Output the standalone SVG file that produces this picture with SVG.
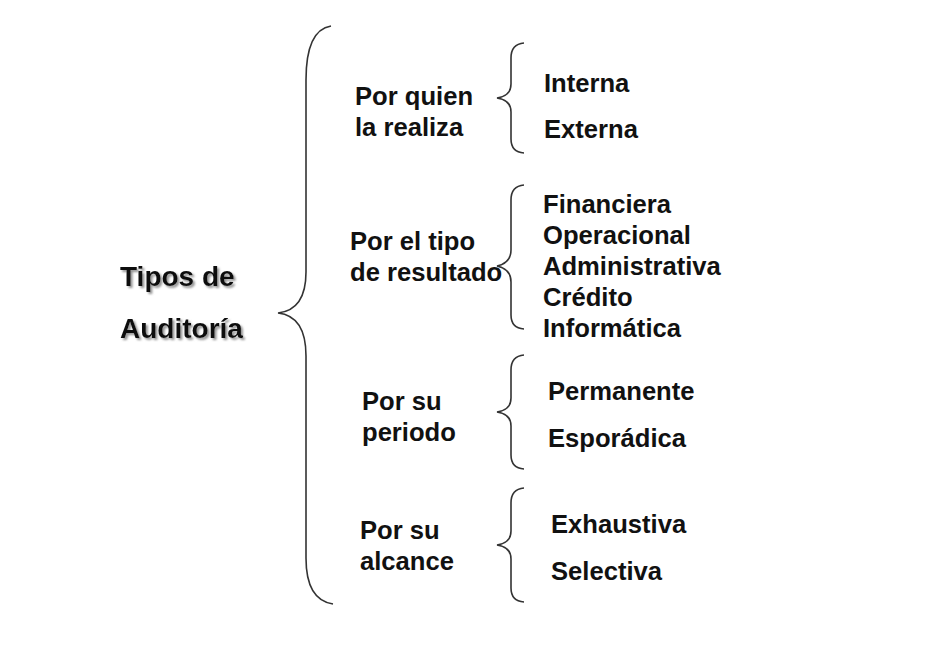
<svg xmlns="http://www.w3.org/2000/svg" width="944" height="651" viewBox="0 0 944 651">
<defs>
<filter id="sh" x="-10%" y="-30%" width="130%" height="170%">
<feDropShadow dx="2" dy="2" stdDeviation="1.2" flood-color="#777" flood-opacity="0.8"/>
</filter>
</defs>
<style>
text{font-family:"Liberation Sans",Arial,sans-serif;font-weight:bold;fill:#111;font-size:25.6px}
.title{font-size:28px;filter:url(#sh)}
.brace{fill:none;stroke:#333;stroke-width:1.6}
</style>
<rect width="944" height="651" fill="#fff"/>
<g id="connectors">
<path class="brace" d="M331,26 Q306,30 306,80 L306,272 Q306,310 278,313 Q306,316 306,356 L306,558 Q306,600 333,604"/>
<path class="brace" d="M524,43 Q511,44 511,58 L511,84 Q511,96 497,98 Q511,100 511,112 L511,139 Q511,152 524,153"/>
<path class="brace" d="M524,185 Q511,186 511,200 L511,250 Q511,263 497,266 Q511,269 511,282 L511,315 Q511,328 524,329"/>
<path class="brace" d="M524,355 Q511,356 511,370 L511,398 Q511,410 497,412 Q511,414 511,426 L511,455 Q511,468 524,469"/>
<path class="brace" d="M524,488 Q511,489 511,503 L511,531 Q511,543 497,545 Q511,547 511,559 L511,588 Q511,601 524,602"/>
</g>
<g id="root">
<text class="title" x="120" y="286">Tipos de</text>
<text class="title" x="120" y="338">Auditoría</text>
</g>
<g id="quien">
<text x="355" y="105">Por quien</text>
<text x="355" y="136">la realiza</text>
</g>
<g id="quien-items">
<text x="544" y="92">Interna</text>
<text x="544" y="138">Externa</text>
</g>
<g id="tipo">
<text x="350" y="250">Por el tipo</text>
<text x="350" y="281">de resultado</text>
</g>
<g id="tipo-items">
<text x="543" y="213">Financiera</text>
<text x="543" y="244">Operacional</text>
<text x="543" y="275">Administrativa</text>
<text x="543" y="306">Crédito</text>
<text x="543" y="337">Informática</text>
</g>
<g id="periodo">
<text x="362" y="410">Por su</text>
<text x="362" y="441">periodo</text>
</g>
<g id="periodo-items">
<text x="548" y="400">Permanente</text>
<text x="548" y="447">Esporádica</text>
</g>
<g id="alcance">
<text x="360" y="539">Por su</text>
<text x="360" y="570">alcance</text>
</g>
<g id="alcance-items">
<text x="551" y="533">Exhaustiva</text>
<text x="551" y="580">Selectiva</text>
</g>
</svg>
